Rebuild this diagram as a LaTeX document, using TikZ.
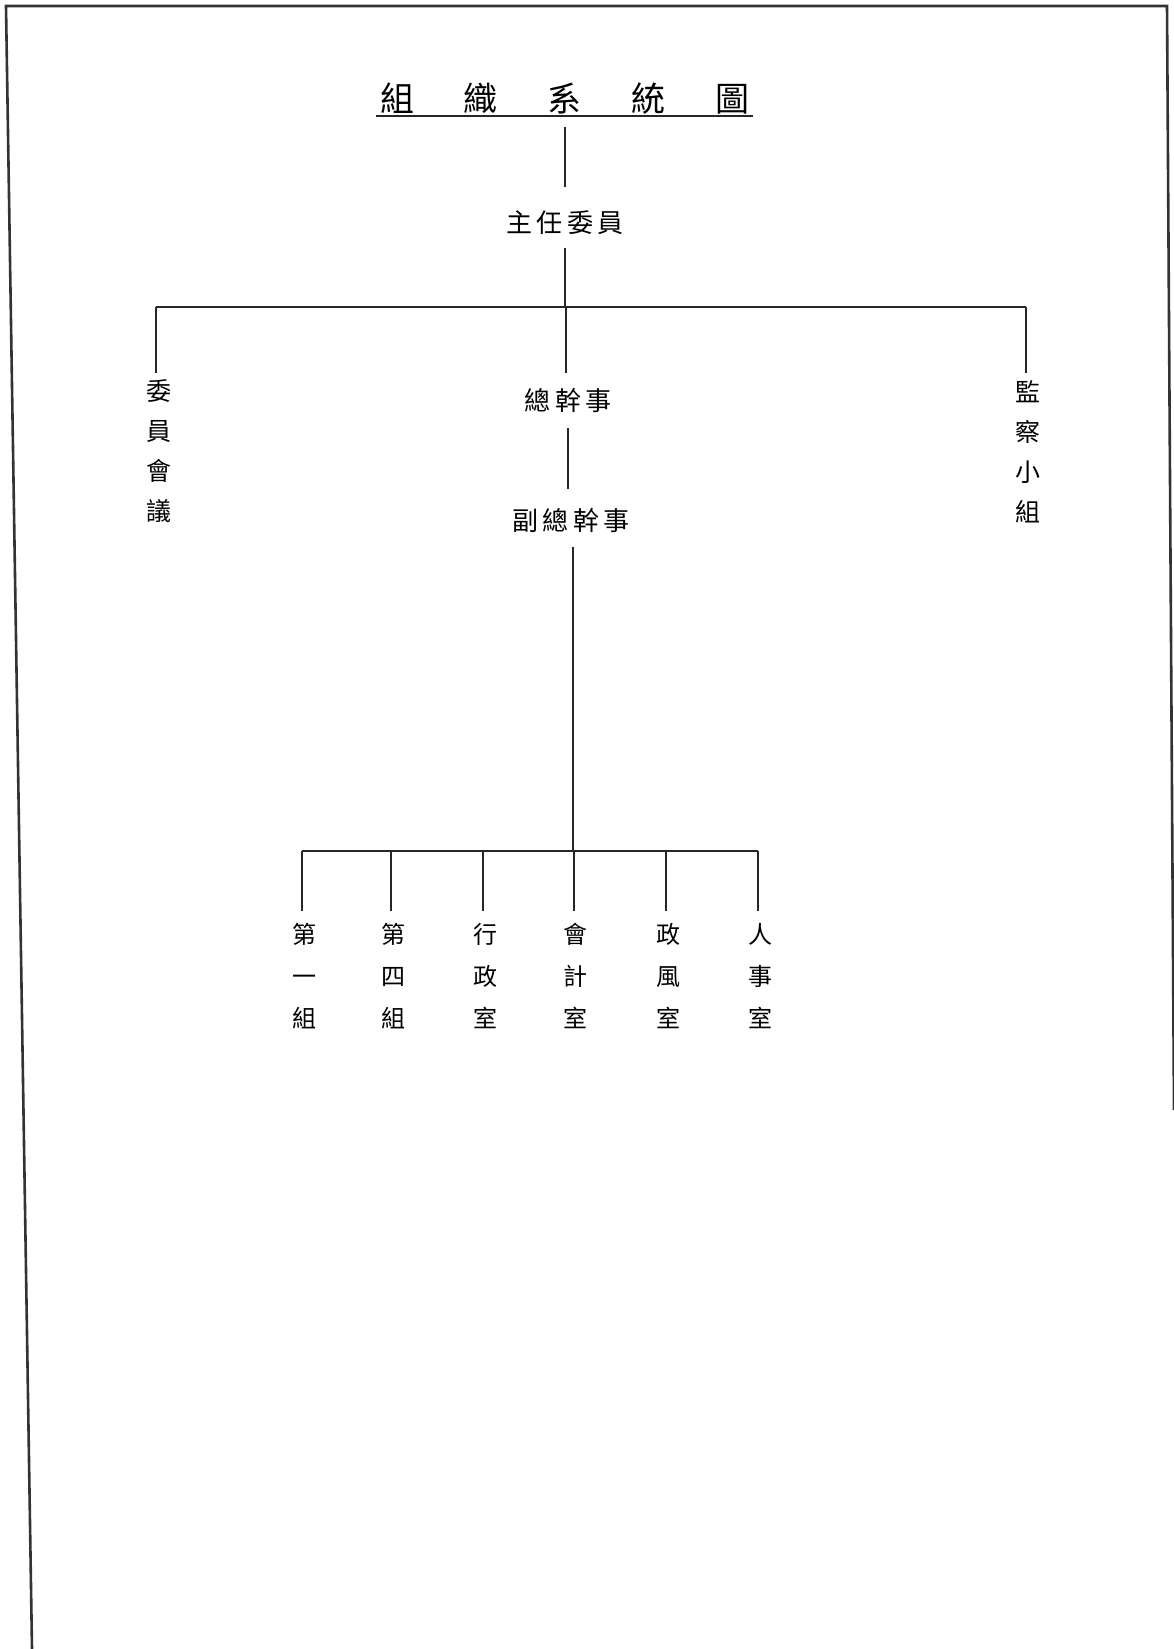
\documentclass[tikz,border=0pt]{standalone}
\usepackage{fontspec}
\newfontfamily\cjk{Noto Sans CJK TC}
\newcommand{\gp}{\hspace{4.5pt}}
\begin{document}
\begin{tikzpicture}[x=1pt,y=-1pt,
  ln/.style={line width=2.2pt,draw=black!85},
  frm/.style={line width=2.6pt,draw=black!80},
  lab/.style={inner sep=0pt,text height=22.4pt,text depth=0.5pt,font=\cjk\fontsize{26}{26}\selectfont},
  ttl/.style={inner sep=0pt,text height=29.2pt,text depth=0.7pt,font=\cjk\fontsize{34}{34}\selectfont},
  vcol/.style={inner sep=0pt,anchor=north,align=center,font=\cjk\fontsize{25}{40}\selectfont},
  bcol/.style={inner sep=0pt,anchor=north,align=center,font=\cjk\fontsize{24}{42}\selectfont}]
\useasboundingbox (0,0) rectangle (1173,1649);
\fill[white] (0,0) rectangle (1173,1649);
% frame
\coordinate (fbl) at (32,1649);
\coordinate (ftl) at (6,6);
\coordinate (ftr) at (1167,6);
\coordinate (fbr) at (1174,1110);
\draw[frm] (fbl) -- (ftl) -- (ftr) -- (fbr);
% title
\node[ttl] (title) at (565,97) {組\hspace{50pt}織\hspace{50pt}系\hspace{50pt}統\hspace{50pt}圖};
\draw[ln] ([xshift=-4pt,yshift=-4pt]title.south west) -- ([xshift=3pt,yshift=-4pt]title.south east);
% main chain
\node[lab] (zr) at (565,222) {主\gp 任\gp 委\gp 員};
\draw[ln] ([yshift=-15pt]title.south) -- ([yshift=23.5pt]zr.north);
\coordinate (bl) at (156,307);
\coordinate (bc) at (566,307);
\coordinate (br) at (1026,307);
\draw[ln] (bl) -- (br);
\draw[ln] ([yshift=-14.5pt]zr.south) -- (zr.south |- bc);
\node[vcol] (wy) at (159,379) {委\\員\\會\\議};
\node[vcol] (jc) at (1028,380) {監\\察\\小\\組};
\node[lab] (zg) at (568,400) {總\gp 幹\gp 事};
\draw[ln] (bl) -- ([yshift=6pt]wy.north -| bl);
\draw[ln] (br) -- ([yshift=7pt]jc.north -| br);
\draw[ln] (bc) -- ([yshift=15.5pt]zg.north -| bc);
\node[lab] (fz) at (571,520) {副\gp 總\gp 幹\gp 事};
\draw[ln] ([yshift=-16.5pt]zg.south) -- ([yshift=19.5pt]fz.north -| zg.south);
\coordinate (dc) at (573,851);
\draw[ln] ([yshift=-15.5pt]fz.south -| dc) -- (dc);
% bottom row
\coordinate (d1) at (302,851);
\coordinate (d2) at (391,851);
\coordinate (d3) at (483,851);
\coordinate (d4) at (574,851);
\coordinate (d5) at (666,851);
\coordinate (d6) at (758,851);
\draw[ln] (d1) -- (d6);
\node[bcol] (u1) at (304,923) {第\\一\\組};
\node[bcol] (u2) at (393,923) {第\\四\\組};
\node[bcol] (u3) at (485,923) {行\\政\\室};
\node[bcol] (u4) at (575,923) {會\\計\\室};
\node[bcol] (u5) at (668,923) {政\\風\\室};
\node[bcol] (u6) at (760,923) {人\\事\\室};
\foreach \i in {1,...,6}{
  \draw[ln] (d\i) -- ([yshift=12pt]u\i.north -| d\i);
}
\end{tikzpicture}
\end{document}
